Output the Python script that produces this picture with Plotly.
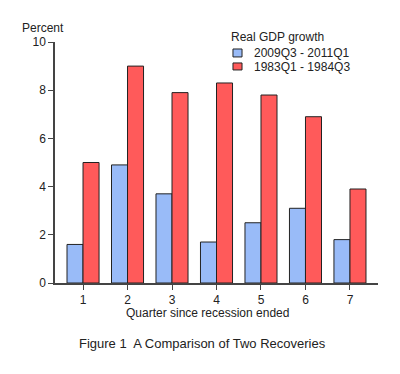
import plotly.graph_objects as go

quarters = [1, 2, 3, 4, 5, 6, 7]
recent = [1.6, 4.9, 3.7, 1.7, 2.5, 3.1, 1.8]
early80s = [5.0, 9.0, 7.9, 8.3, 7.8, 6.9, 3.9]
series_names = ["2009Q3 - 2011Q1", "1983Q1 - 1984Q3"]
series_colors = ["#99bbf8", "#ff5a5a"]
yticks = [0, 2, 4, 6, 8, 10]

font = "Arial, Liberation Sans, sans-serif"
fig = go.Figure()
for name, vals, col in zip(series_names, [recent, early80s], series_colors):
    fig.add_trace(go.Bar(x=quarters, y=vals, name=name, showlegend=False,
                         marker=dict(color=col, line=dict(color="#222222", width=1))))

fig.update_layout(
    width=400, height=374,
    margin=dict(l=47, r=30, t=34, b=99, autoexpand=False),
    paper_bgcolor="white", plot_bgcolor="white",
    barmode="group", bargap=0.28, bargroupgap=0,
    font=dict(family=font, size=12, color="#222222"),
    showlegend=False,
    xaxis=dict(range=[0.37, 7.63], tickvals=quarters, ticktext=[str(q) for q in quarters],
               showline=True, linecolor="#444444", linewidth=1.5,
               ticks="outside", ticklen=5, tickcolor="#444444",
               showgrid=False, zeroline=False, automargin=False),
    yaxis=dict(range=[0, 10], tickvals=yticks, showline=True, linecolor="#444444", linewidth=1.5,
               ticks="outside", ticklen=5, tickcolor="#444444",
               showgrid=False, zeroline=False, automargin=False),
)

def ann(text, x, y, size=12, xanchor="left"):
    fig.add_annotation(text=text, xref="paper", yref="paper", x=x, y=y,
                       xanchor=xanchor, yanchor="middle", showarrow=False,
                       font=dict(size=size))

ann("Percent", -0.108, 1.058)
ann("Real GDP growth", 0.539, 1.021)
ann(series_names[0], 0.610, 0.954)
ann(series_names[1], 0.610, 0.898)
ann("Quarter since recession ended", 0.471, -0.124, xanchor="center")
ann("Figure 1  A Comparison of Two Recoveries", 0.068, -0.249, size=13)

for col, (y0, y1) in zip(series_colors, [(0.938, 0.971), (0.884, 0.913)]):
    fig.add_shape(type="rect", xref="paper", yref="paper", x0=0.551, x1=0.579, y0=y0, y1=y1,
                  fillcolor=col, line=dict(color="#222222", width=1))

fig.write_html("out.html")
